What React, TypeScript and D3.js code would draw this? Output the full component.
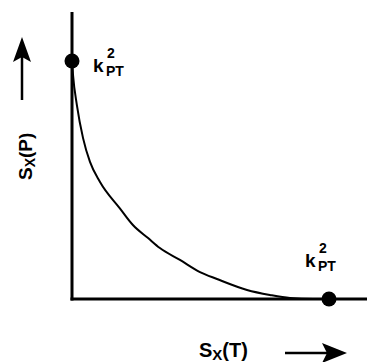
import { useRef, useEffect } from 'react';
import * as d3 from 'd3';

// curve, both axes normalised to 0..1
const curveX = [0, 0.004, 0.019, 0.043, 0.07, 0.109, 0.187, 0.237, 0.296, 0.342, 0.42, 0.498, 0.564, 0.681, 0.77, 0.848, 0.938, 1];
const curveY = [1, 0.941, 0.815, 0.676, 0.576, 0.492, 0.38, 0.311, 0.256, 0.214, 0.164, 0.113, 0.084, 0.038, 0.017, 0.004, 0, 0];
// the two end points marked with dots
const markX = [0, 1];
const markY = [1, 0];

const W = 367;
const H = 362;
const FONT = 'Arial, "Liberation Sans", sans-serif';

const App = () => {
  const svgRef = useRef<SVGSVGElement>(null);

  useEffect(() => {
    if (!svgRef.current) return;
    const svg = d3.select(svgRef.current);
    svg.selectAll('*').remove();

    const x = d3.scaleLinear().domain([0, 1]).range([72, 329]);
    const y = d3.scaleLinear().domain([0, 1]).range([299, 61]);

    // axes
    svg.append('line')
      .attr('x1', x(0)).attr('x2', x(0))
      .attr('y1', 12).attr('y2', y(0) + 1.5)
      .attr('stroke', '#000').attr('stroke-width', 3);
    svg.append('line')
      .attr('x1', x(0) - 1.5).attr('x2', W)
      .attr('y1', y(0)).attr('y2', y(0))
      .attr('stroke', '#000').attr('stroke-width', 3);

    // curve
    const pts = curveX.map((v, i) => [v, curveY[i]] as [number, number]);
    const line = d3.line<[number, number]>()
      .x(d => x(d[0]))
      .y(d => y(d[1]))
      .curve(d3.curveMonotoneX);
    svg.append('path')
      .datum(pts)
      .attr('fill', 'none')
      .attr('stroke', '#000')
      .attr('stroke-width', 2)
      .attr('d', line);

    // dots
    svg.selectAll('.dot')
      .data(markX.map((v, i) => [v, markY[i]]))
      .enter()
      .append('circle')
      .attr('class', 'dot')
      .attr('cx', d => x(d[0]))
      .attr('cy', d => y(d[1]))
      .attr('r', 7.5)
      .attr('fill', '#000');

    // k^2_PT labels
    const kLabel = (lx: number, ly: number) => {
      const g = svg.append('g').attr('font-family', FONT).attr('font-weight', 'bold').attr('fill', '#000');
      g.append('text').attr('x', lx).attr('y', ly).attr('font-size', 19).text('k');
      g.append('text').attr('x', lx + 14).attr('y', ly - 14).attr('font-size', 14).text('2');
      g.append('text').attr('x', lx + 13).attr('y', ly + 4).attr('font-size', 14).text('PT');
    };
    kLabel(93, 72);
    kLabel(305, 267);

    // x label
    const xl = svg.append('text')
      .attr('x', 199).attr('y', 357)
      .attr('font-family', FONT).attr('font-weight', 'bold').attr('font-size', 20);
    xl.append('tspan').text('S');
    xl.append('tspan').attr('font-size', 15).attr('dy', 3).text('X');
    xl.append('tspan').attr('dy', -3).text('(T)');

    // y label
    const yl = svg.append('text')
      .attr('transform', 'translate(32,180) rotate(-90)')
      .attr('font-family', FONT).attr('font-weight', 'bold').attr('font-size', 19);
    yl.append('tspan').text('S');
    yl.append('tspan').attr('font-size', 14).attr('dy', 3).text('X');
    yl.append('tspan').attr('dy', -3).text('(P)');

    // arrows
    svg.append('line')
      .attr('x1', 285).attr('x2', 330).attr('y1', 353).attr('y2', 353)
      .attr('stroke', '#000').attr('stroke-width', 2.5);
    svg.append('path')
      .attr('d', 'M347,353 L322,343 L327,353 L322,363 Z')
      .attr('fill', '#000');
    svg.append('line')
      .attr('x1', 22).attr('x2', 22).attr('y1', 100).attr('y2', 55)
      .attr('stroke', '#000').attr('stroke-width', 2.5);
    svg.append('path')
      .attr('d', 'M22,37 L13,62 L22,57 L31,62 Z')
      .attr('fill', '#000');
  }, []);

  return (
    <svg
      ref={svgRef}
      width={W}
      height={H}
      style={{ position: 'absolute', left: 0, top: 0, background: '#fff' }}
    />
  );
};

export default App;
